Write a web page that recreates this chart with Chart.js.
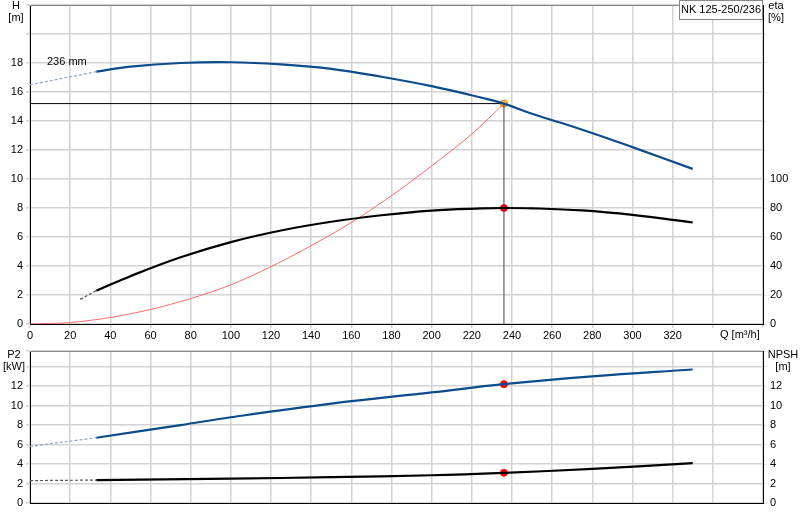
<!DOCTYPE html>
<html><head><meta charset="utf-8">
<script src="https://cdn.jsdelivr.net/npm/chart.js@4"></script>
<style>body{margin:0;background:#fff;width:800px;height:520px;position:relative;overflow:hidden}
canvas{position:absolute;left:0}</style></head><body>
<div style="position:absolute;left:0;top:0;width:800px;height:340px"><canvas id="c1"></canvas></div>
<div style="position:absolute;left:0;top:340px;width:800px;height:180px"><canvas id="c2"></canvas></div>
<script>
// Data (Q in m³/h)
const headDashed = [[0,16.5],[33,17.4]];
const headCurve = [[33,17.4],[50,17.75],[75,18.0],[100,18.05],[125,17.9],[150,17.6],[175,17.05],[200,16.4],[225,15.6],[236,15.2],[250,14.5],[275,13.4],[300,12.2],[330,10.7]];
const etaDashed = [[25,17],[33,23]];
const etaCurve = [[33,23],[50,33],[75,46],[100,56.5],[125,64.5],[150,70.5],[175,75],[200,78.2],[225,79.7],[236,80],[250,79.8],[275,78.3],[300,75.2],[330,70]];
const systemCurve = [[0,0],[20,0.1],[40,0.45],[60,1.0],[80,1.75],[100,2.7],[120,3.95],[140,5.4],[160,7.0],[180,8.85],[200,10.9],[220,13.1],[236,15.2]];
const dutyQ = 236, dutyH = 15.2, dutyEta = 80;
const p2Dashed = [[0,5.8],[33,6.7]];
const p2Curve = [[33,6.7],[75,8.0],[100,8.8],[150,10.2],[200,11.35],[236,12.2],[280,13.0],[330,13.7]];
const npshDashed = [[0,2.3],[33,2.35]];
const npshCurve = [[33,2.35],[100,2.5],[150,2.65],[200,2.85],[236,3.1],[280,3.5],[330,4.1]];
const dutyP2 = 12.2, dutyNpsh = 3.1;

const pts = a => a.map(([x,y])=>({x,y}));
const FONT = {family:'"Liberation Sans", Arial, sans-serif', size:11};
Chart.defaults.font = FONT; Chart.defaults.color = '#000';
const GRID = '#d3d3d3';
function fixW(w){return s=>{s.width=w;s.paddingTop=0;s.paddingBottom=0;};}
function fixH(h){return s=>{s.height=h;s.paddingLeft=0;s.paddingRight=0;};}
const frame = {id:'frame',afterDraw(c,a,o){const {ctx,chartArea:ca}=c;ctx.save();
  ctx.strokeStyle='#888';ctx.lineWidth=1;ctx.beginPath();ctx.moveTo(ca.left,ca.top+0.5);ctx.lineTo(ca.right,ca.top+0.5);ctx.stroke();
  ctx.fillStyle='#000';ctx.font='11px "Liberation Sans", Arial, sans-serif';ctx.textAlign='center';ctx.textBaseline='top';
  (o.texts||[]).forEach(t=>{ctx.textAlign=t.a||'center';ctx.fillText(t.s,t.x,t.y);});
  if(o.box){ctx.fillStyle='#fff';ctx.fillRect(680,1,83,18);ctx.fillStyle='#000';ctx.strokeStyle='#888';ctx.strokeRect(679.5,0.5,83,19);ctx.textAlign='center';ctx.fillText('NK 125-250/236',721,4);}
  ctx.restore();}};
const base = ()=>({responsive:true,maintainAspectRatio:false,animation:false,parsing:false});
function line(data,color,w,dash,yAxisID){return {type:'line',data:pts(data),borderColor:color,borderWidth:w,borderDash:dash||[],pointRadius:0,tension:0.4,yAxisID:yAxisID||'y',fill:false};}
function dot(x,y,color,yAxisID){return {type:'scatter',data:[{x,y}],backgroundColor:color,borderColor:color==='#ffcc33'?'#e08000':color,borderWidth:1,pointRadius:3.5,yAxisID:yAxisID||'y'};}

new Chart(document.getElementById('c1'),{type:'line',
 data:{datasets:[
  line(headDashed,'#8fa6c8',1.2,[3,2]),
  line(headCurve,'#0c4b8c',2.2),
  line(etaDashed,'#555',1.2,[3,2],'y2'),
  line(etaCurve,'#000',2.2,null,'y2'),
  {...line(systemCurve,'#ff5a5a',0.9),tension:0.3},
  {...line([[0,dutyH],[dutyQ,dutyH]],'#000',1),tension:0},
  {...line([[dutyQ,0],[dutyQ,dutyH]],'#444',1),tension:0},
  dot(dutyQ,dutyEta,'#ff0000','y2'),
  dot(dutyQ,dutyH,'#ffcc33')
 ]},
 options:{...base(),layout:{padding:0},
  scales:{
   x:{type:'linear',min:0,max:365,afterFit:fixH(16),ticks:{stepSize:20,autoSkip:false,padding:1,maxRotation:0,callback:v=>v<=320?v:''},
      grid:{color:GRID,lineWidth:1.5,tickLength:4,drawTicks:true},border:{color:'#000'}},
   y:{position:'left',min:0,max:22,afterFit:fixW(30),ticks:{stepSize:2,padding:3,callback:v=>v<=18?v:''},grid:{color:GRID,lineWidth:1.5,tickLength:4},border:{color:'#000'}},
   y2:{position:'right',min:0,max:220,afterFit:fixW(37),ticks:{stepSize:20,padding:3,callback:v=>v<=100?v:''},grid:{drawOnChartArea:false,tickLength:4},border:{color:'#000'}}
  },
  plugins:{legend:{display:false},tooltip:{enabled:false},frame:{box:true,texts:[
   {s:'H',x:16,y:0},{s:'[m]',x:16,y:12},{s:'eta',x:776,y:0},{s:'[%]',x:776,y:12},
   {s:'236 mm',x:47,y:56,a:'left'},{s:'Q [m³/h]',x:720,y:329,a:'left'}]}}},
 plugins:[frame]});

new Chart(document.getElementById('c2'),{type:'line',
 data:{datasets:[
  line(p2Dashed,'#8fa6c8',1.2,[3,2]),
  line(p2Curve,'#0c4b8c',2.2),
  line(npshDashed,'#555',1.2,[3,2],'y2'),
  line(npshCurve,'#000',2.2,null,'y2'),
  dot(dutyQ,dutyP2,'#ff0000'),
  dot(dutyQ,dutyNpsh,'#ff0000','y2')
 ]},
 options:{...base(),layout:{padding:{top:11,bottom:0}},
  scales:{
   x:{type:'linear',min:0,max:365,afterFit:fixH(17),ticks:{stepSize:20,autoSkip:false,callback:()=>''},
      grid:{color:GRID,lineWidth:1.5,tickLength:0},border:{color:'#000'}},
   y:{position:'left',min:0,max:15.6,afterFit:fixW(30),ticks:{stepSize:2,padding:3,callback:v=>v<=12?v:''},grid:{color:GRID,lineWidth:1.5,tickLength:4},border:{color:'#000'}},
   y2:{position:'right',min:0,max:15.6,afterFit:fixW(37),ticks:{stepSize:2,padding:3,callback:v=>v<=12?v:''},grid:{drawOnChartArea:false,tickLength:4},border:{color:'#000'}}
  },
  plugins:{legend:{display:false},tooltip:{enabled:false},frame:{texts:[
   {s:'P2',x:14,y:9},{s:'[kW]',x:14,y:21},{s:'NPSH',x:783,y:9},{s:'[m]',x:783,y:21}]}}},
 plugins:[frame]});
</script></body></html>
